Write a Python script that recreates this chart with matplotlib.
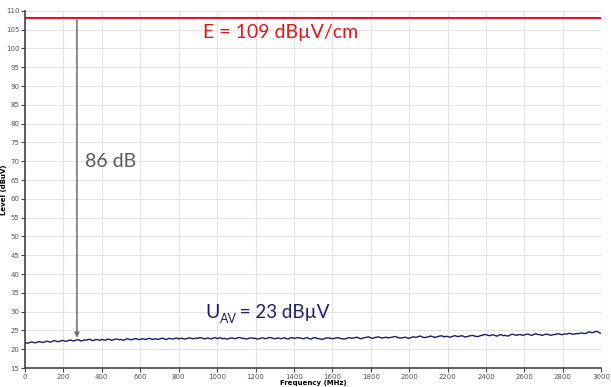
import numpy as np
import matplotlib.pyplot as plt

# -----------------------------
# Daten
# -----------------------------
freq_step = 10
level_dbuv = [
    21.8, 21.6, 21.7, 21.9, 21.9, 21.7, 21.8, 22.0, 22.0, 21.8, 21.9, 22.1, 22.1, 21.9, 22.0, 22.3, 22.2, 22.0, 22.1, 22.3,
    22.3, 22.1, 22.2, 22.4, 22.4, 22.2, 22.3, 22.5, 22.5, 22.2, 22.3, 22.5, 22.4, 22.6, 22.6, 22.3, 22.4, 22.6, 22.5, 22.4,
    22.6, 22.5, 22.4, 22.7, 22.6, 22.4, 22.5, 22.7, 22.7, 22.5, 22.6, 22.4, 22.5, 22.8, 22.7, 22.5, 22.6, 22.8, 22.8, 22.6,
    22.6, 22.8, 22.7, 22.6, 22.8, 22.9, 22.6, 22.7, 22.8, 22.6, 22.7, 22.9, 22.9, 22.6, 22.7, 22.9, 22.8, 22.7, 22.9, 23.0,
    22.7, 22.9, 22.9, 22.7, 22.8, 23.0, 23.0, 22.8, 22.8, 23.0, 22.9, 23.1, 23.0, 22.8, 22.8, 23.0, 22.9, 22.7, 23.0, 23.1,
    22.8, 23.0, 23.0, 22.8, 22.9, 22.7, 22.8, 23.0, 23.0, 22.8, 22.9, 23.1, 23.1, 22.9, 22.9, 22.7, 22.8, 23.0, 23.0, 22.9,
    22.9, 22.7, 22.8, 23.0, 23.0, 22.8, 22.9, 23.1, 23.1, 22.9, 22.8, 22.9, 23.0, 22.8, 22.9, 23.1, 22.8, 22.7, 23.0, 23.1,
    22.9, 23.0, 23.1, 23.0, 22.9, 22.8, 23.0, 23.1, 22.8, 22.7, 23.0, 23.1, 22.9, 22.8, 22.7, 22.6, 22.9, 23.0, 23.0, 22.9,
    22.8, 22.9, 23.0, 23.1, 22.9, 22.8, 22.7, 22.8, 23.0, 23.1, 22.9, 23.0, 23.1, 23.2, 22.9, 22.8, 23.0, 23.1, 23.2, 23.3,
    23.0, 22.9, 23.1, 23.2, 23.3, 23.1, 23.0, 23.1, 23.2, 23.0, 23.1, 23.2, 23.3, 23.4, 23.1, 23.0, 23.0, 23.1, 23.2, 23.0,
    22.9, 23.1, 23.3, 23.2, 23.2, 23.4, 23.5, 23.2, 23.1, 23.2, 23.3, 23.5, 23.4, 23.2, 23.2, 23.4, 23.5, 23.6, 23.3, 23.4,
    23.4, 23.2, 23.3, 23.5, 23.6, 23.4, 23.4, 23.6, 23.5, 23.3, 23.3, 23.5, 23.6, 23.7, 23.5, 23.4, 23.4, 23.6, 23.7, 23.9,
    23.9, 23.7, 23.6, 23.8, 23.8, 23.6, 23.5, 23.8, 23.9, 23.6, 23.7, 23.5, 23.6, 23.9, 24.0, 23.8, 23.7, 23.9, 23.9, 23.7,
    23.8, 24.0, 24.0, 23.8, 23.7, 24.0, 24.1, 23.9, 23.9, 23.7, 23.8, 24.0, 24.0, 23.8, 23.7, 23.9, 23.9, 24.1, 24.1, 23.9,
    23.9, 24.1, 24.0, 24.2, 24.2, 24.0, 24.0, 24.2, 24.1, 24.3, 24.3, 24.2, 24.2, 24.5, 24.6, 24.4, 24.5, 24.7, 24.7, 24.4,
    24.2,
]
freq_mhz = np.arange(len(level_dbuv)) * freq_step

e_level = 108          # rote Linie
arrow_freq = 270
arrow_top = 107.6
arrow_bottom = 23.0

xticks = np.arange(0, 3001, 200)
yticks = np.arange(15, 111, 5)

RED = '#e3151d'
NAVY = '#1f1f70'

# -----------------------------
# Plot
# -----------------------------
fig = plt.figure(figsize=(6.11, 3.87), dpi=100)
ax = fig.add_axes([0.041, 0.049, 0.943, 0.923])

ax.set_xlim(0, 3000)
ax.set_ylim(15, 110)
ax.set_xticks(xticks)
ax.set_yticks(yticks)
ax.grid(True, color='#e3e3e3', linewidth=0.8)
ax.set_axisbelow(True)

ax.plot(freq_mhz, level_dbuv, color='#1c1c6e', linewidth=1.0)
ax.axhline(e_level, color=RED, linewidth=1.5)

ax.annotate('', xy=(arrow_freq, arrow_bottom), xytext=(arrow_freq, arrow_top),
            arrowprops=dict(arrowstyle='-|>', color='#767676', lw=1.2,
                            mutation_scale=7, shrinkA=0, shrinkB=0))

ax.text(1328, 104.2, 'E = 109 dBµV/cm', color=RED, fontsize=14,
        family='Lato', ha='center', va='center')
ax.text(312, 69.8, '86 dB', color='#595959', fontsize=14,
        family='Lato', ha='left', va='center')

# U_AV mit kleinem Index, Stück für Stück gesetzt
t_u = ax.text(937, 28.2, 'U', color=NAVY, fontsize=14,
              family='Lato', ha='left', va='baseline')
fig.canvas.draw()
bb = t_u.get_window_extent()
base_y = ax.transData.transform((937, 28.2))[1]
t_av = fig.text(bb.x1 + 0.5, base_y - 5, 'AV', color=NAVY, fontsize=9,
                family='Lato', ha='left', va='baseline', transform=None)
fig.canvas.draw()
bb2 = t_av.get_window_extent()
fig.text(bb2.x1 - 2, base_y, ' = 23 dBµV', color=NAVY, fontsize=13.5,
         family='Lato', ha='left', va='baseline', transform=None)

for s in ['top', 'right']:
    ax.spines[s].set_visible(False)
for s in ['left', 'bottom']:
    ax.spines[s].set_color('#444444')
    ax.spines[s].set_linewidth(1.2)

ax.tick_params(axis='both', labelsize=5, colors='#444444', labelcolor='#555555',
               length=3, width=0.8, pad=1)

ax.set_xlabel('Frequency (MHz)', fontsize=5, fontweight='bold', labelpad=0)
ax.set_ylabel('Level (dBuV)', fontsize=5, fontweight='bold')
ax.yaxis.set_label_coords(-0.032, 0.5)

fig.savefig('out.png', dpi=100)
